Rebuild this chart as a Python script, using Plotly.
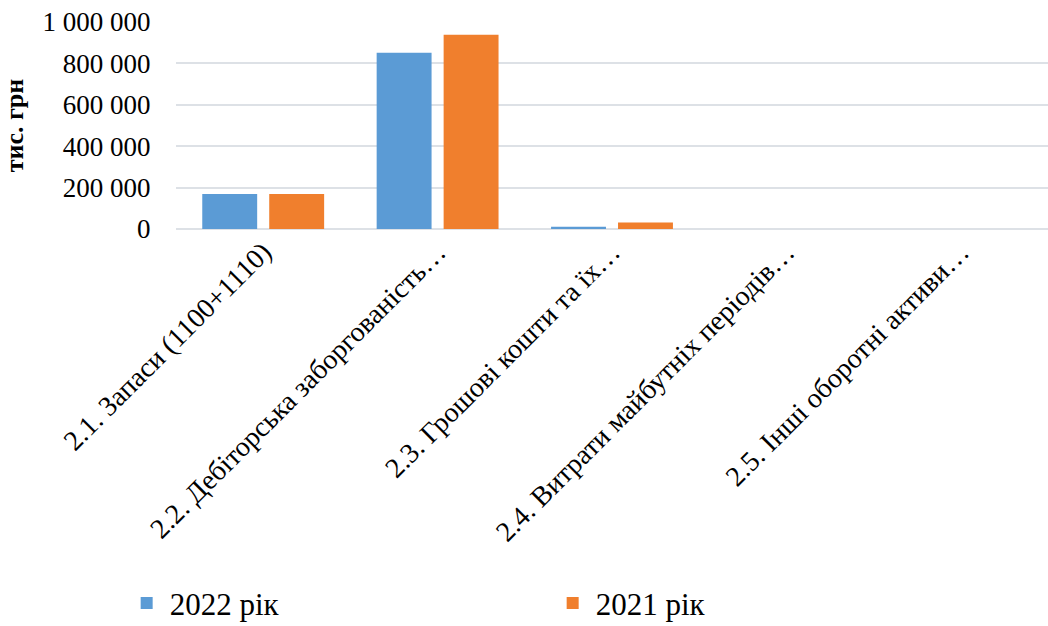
import plotly.graph_objects as go

categories = [
    "2.1. Запаси (1100+1110)",
    "2.2. Дебіторська заборгованість…",
    "2.3. Грошові кошти та їх…",
    "2.4. Витрати майбутніх періодів…",
    "2.5. Інші оборотні активи…",
]
series_2022 = [169000, 852000, 11000, 0, 0]
series_2021 = [169000, 939000, 31000, 0, 0]
tick_vals = [0, 200000, 400000, 600000, 800000, 1000000]

FONT = "Liberation Serif, Times New Roman, serif"

fig = go.Figure()
fig.add_trace(go.Bar(name="2022 рік", x=categories, y=series_2022,
                     marker=dict(color="#5B9BD5", line=dict(width=0))))
fig.add_trace(go.Bar(name="2021 рік", x=categories, y=series_2021,
                     marker=dict(color="#F07F2D", line=dict(width=0))))

fig.update_layout(
    width=1048, height=626,
    margin=dict(l=176, r=0, t=22, b=397),
    paper_bgcolor="white", plot_bgcolor="white",
    barmode="group", bargap=0.232, bargroupgap=0.18,
    separators=". ",
    font=dict(family=FONT, color="black", size=27),
    showlegend=True,
    legend=dict(orientation="h", x=0.118, xanchor="left", y=0.036, yanchor="middle",
                yref="container", xref="container",
                font=dict(size=31, family=FONT), entrywidth=375, entrywidthmode="pixels",
                itemwidth=36),
    xaxis=dict(tickangle=-45, showgrid=False, showline=False, ticks="",
               tickfont=dict(size=28, family=FONT)),
    yaxis=dict(range=[0, 1000000], tickvals=tick_vals, tickformat=",d",
               showgrid=True, gridcolor="#DDE1E6", gridwidth=1.5,
               zeroline=True, zerolinecolor="#DDE1E6", zerolinewidth=1.5,
               ticks="outside", ticklen=19, tickcolor="rgba(0,0,0,0)",
               tickfont=dict(size=27, family=FONT),
               title=dict(text="<b>тис. грн</b>", font=dict(size=26, family=FONT), standoff=12)),
)

fig.write_html("out.html")
